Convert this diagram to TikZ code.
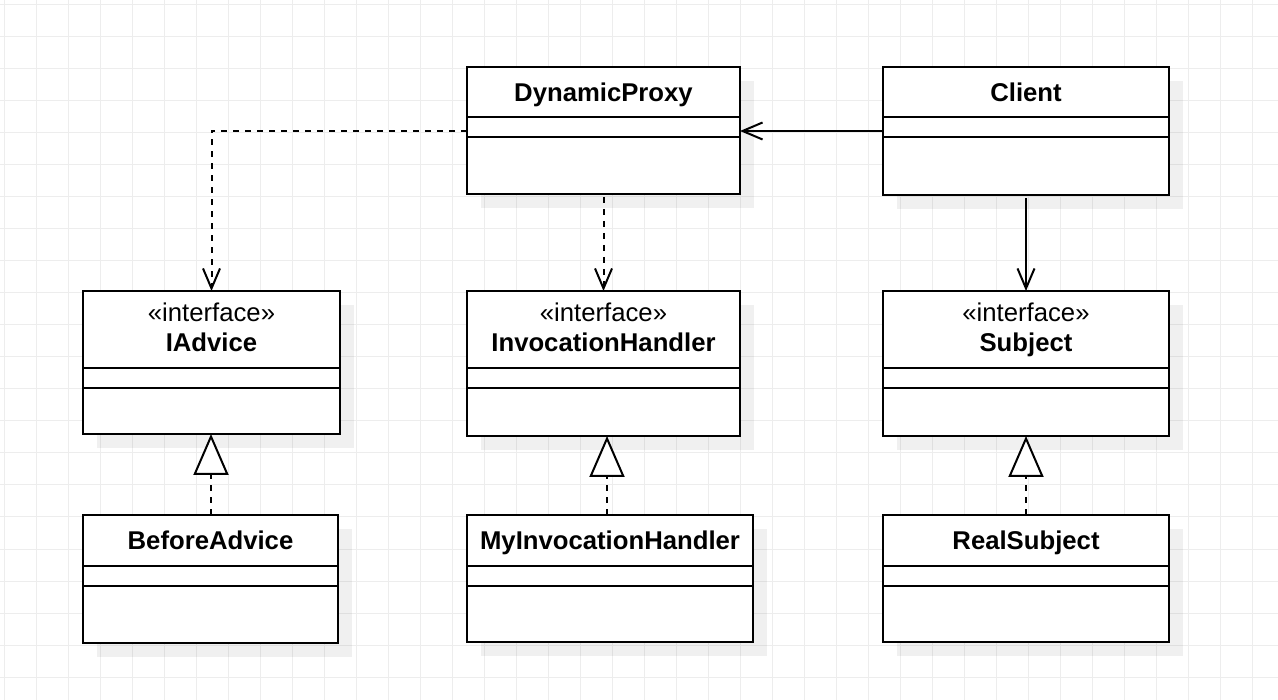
\documentclass[tikz,border=0pt]{standalone}
\usepackage{fontspec}
\setmainfont{Liberation Sans}
\usetikzlibrary{arrows.meta,calc}
\definecolor{gridc}{HTML}{EDEDED}
\tikzset{
  cls/.style={draw=black, line width=2pt, fill=white, anchor=north west, inner sep=0pt, outer sep=0pt},
  clsline/.style={line width=2pt},
  title/.style={anchor=base, inner sep=0pt, font=\fontsize{25.7}{30}\selectfont\bfseries},
  stereo/.style={anchor=base, inner sep=0pt, font=\fontsize{25.7}{30}\selectfont},
  dep/.style={line width=2pt, dash pattern=on 6pt off 6pt, -{Straight Barb[length=20pt,width=17pt,line width=2pt]}},
  assoc/.style={line width=2pt, -{Straight Barb[length=20pt,width=17pt,line width=2pt]}},
  real/.style={line width=2pt, dash pattern=on 6pt off 6pt, -{Triangle[open,length=41pt,width=35pt,line width=2pt,fill=white]}},
  shadowbox/.style={fill=black, fill opacity=0.06}
}
\newcommand\umlbox[7]{%
  \fill[shadowbox] (#2+14,#3+14) rectangle ++(#4,#5);
  \node[cls, minimum width=#4pt, minimum height=#5pt] (#1) at (#2,#3) {};
  \draw[clsline] ([yshift=-#6pt]#1.north west) -- ([yshift=-#6pt]#1.north east);
  \draw[clsline] ([yshift=-#7pt]#1.north west) -- ([yshift=-#7pt]#1.north east);
}
\begin{document}
\begin{tikzpicture}[x=1pt,y=-1pt]
\useasboundingbox (0,0) rectangle (1278,700);
\fill[white] (0,0) rectangle (1278,700);
% grid
\foreach \gx in {4,36,...,1278} \draw[gridc, line width=1pt] (\gx,0) -- (\gx,700);
\foreach \gy in {5,37,...,700} \draw[gridc, line width=1pt] (0,\gy) -- (1278,\gy);

% boxes
\umlbox{dp}{467}{67}{273}{127}{50}{70}
\umlbox{cl}{883}{67}{286}{128}{50}{70}
\umlbox{ia}{83}{291}{257}{143}{77}{97}
\umlbox{ih}{467}{291}{273}{145}{77}{97}
\umlbox{sub}{883}{291}{286}{145}{77}{97}
\umlbox{ba}{83}{515}{255}{128}{51}{71}
\umlbox{mih}{467}{515}{286}{127}{51}{71}
\umlbox{rs}{883}{515}{286}{127}{51}{71}

% texts
\node[title] (dpT) at ($(dp.north)+(0,35)$) {DynamicProxy};
\node[title] (clT) at ($(cl.north)+(0,35)$) {Client};
\node[stereo] (iaS) at ($(ia.north)+(0,31)$) {«interface»};
\node[title] (iaT) at ($(ia.north)+(0,61)$) {IAdvice};
\node[stereo] (ihS) at ($(ih.north)+(0,31)$) {«interface»};
\node[title] (ihT) at ($(ih.north)+(0,61)$) {InvocationHandler};
\node[stereo] (subS) at ($(sub.north)+(0,31)$) {«interface»};
\node[title] (subT) at ($(sub.north)+(0,61)$) {Subject};
\node[title] (baT) at ($(ba.north)+(0,35)$) {BeforeAdvice};
\node[title] (mihT) at ($(mih.north)+(0,35)$) {MyInvocationHandler};
\node[title] (rsT) at ($(rs.north)+(0,35)$) {RealSubject};

% connectors
\draw[dep] ([yshift=-64pt]dp.north west) -| (ia.north);
\draw[dep] ([yshift=-3pt]dp.south) -- (dp.south |- ih.north);
\draw[assoc] ([yshift=-64pt]cl.north west) -- ([yshift=-64pt]dp.north east);
\draw[assoc] ([yshift=-3pt]cl.south) -- (cl.south |- sub.north);
\coordinate (baTop) at ([xshift=0.5pt]ba.north);
\draw[real] (baTop) -- (baTop |- ia.south);
\coordinate (mihTop) at ([xshift=-3pt]mih.north);
\draw[real] (mihTop) -- (mihTop |- ih.south);
\draw[real] (rs.north) -- (rs.north |- sub.south);
\end{tikzpicture}
\end{document}
